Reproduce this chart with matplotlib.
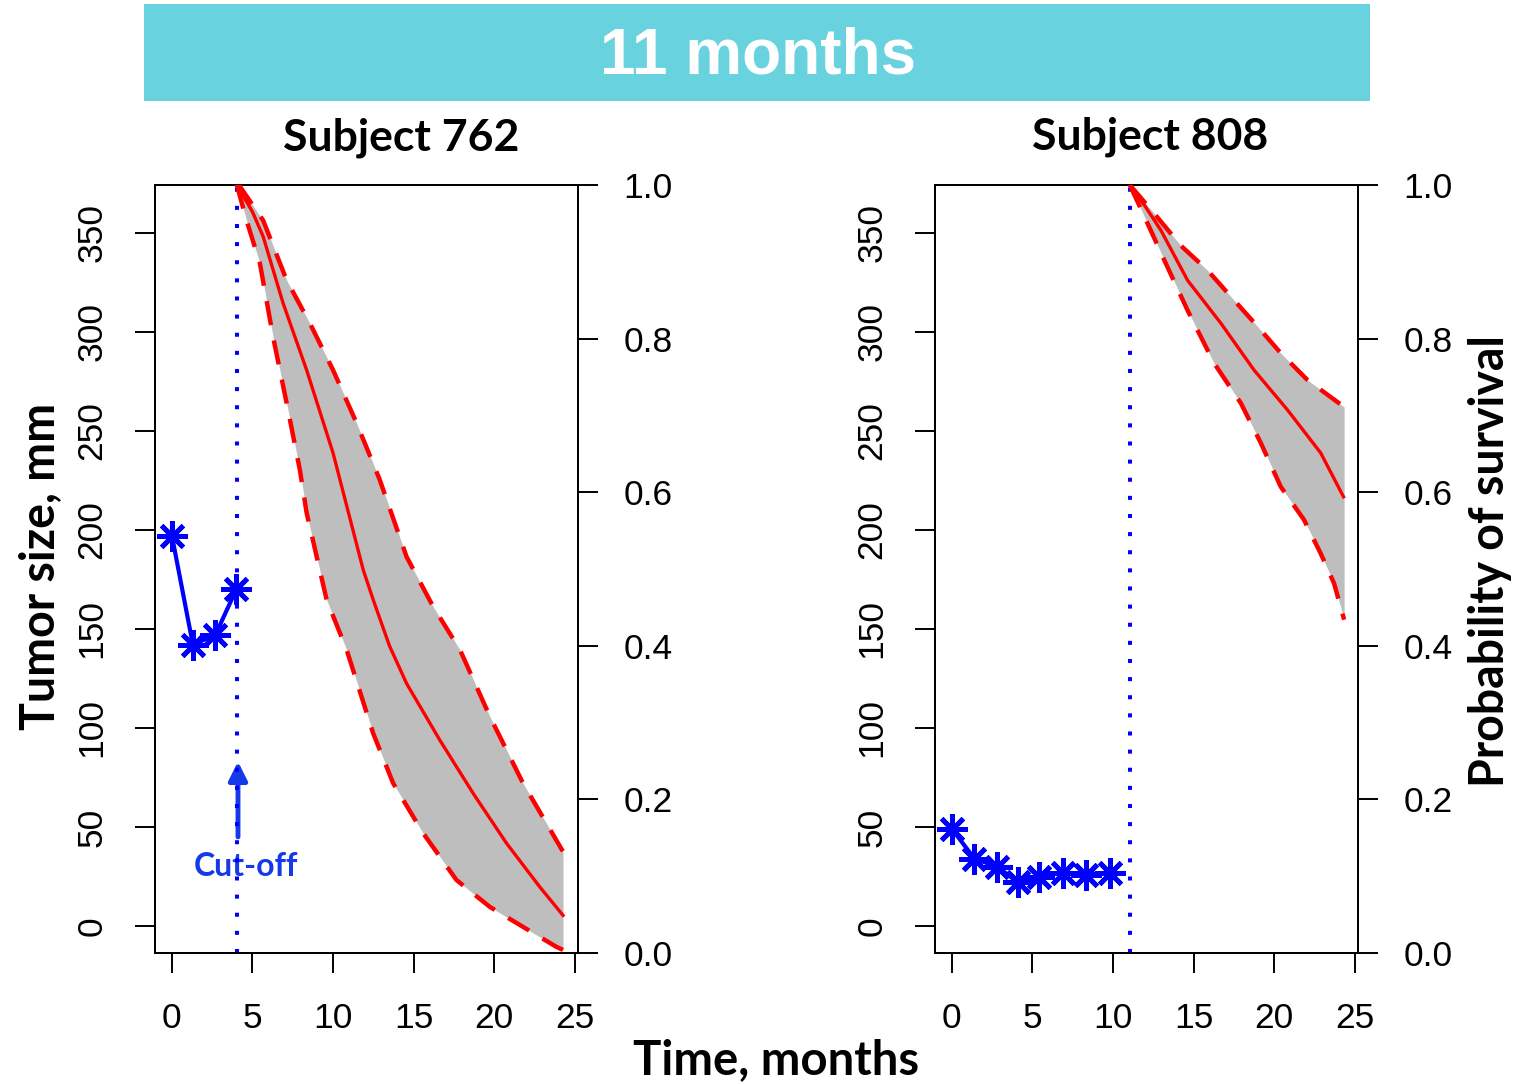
import numpy as np
import matplotlib.pyplot as plt
from matplotlib.patches import Rectangle

# ---- data ----
# subject 762
t_obs_762 = [0.0, 1.3, 2.7, 4.0]
size_obs_762 = [197, 142, 147, 170]
cut_762 = 4.03

t_mid_762 = [4.03, 5.0, 5.66, 6.90, 8.36, 10.0, 11.87, 12.49, 13.5, 14.56, 16.63, 18.69, 20.76, 22.83, 24.27]
s_mid_762 = [1.0, 0.965, 0.933, 0.846, 0.759, 0.651, 0.499, 0.460, 0.400, 0.351, 0.277, 0.208, 0.143, 0.086, 0.049]
t_up_762 = [4.03, 4.22, 5.66, 7.12, 8.56, 10.0, 11.46, 12.9, 14.56, 16.21, 17.87, 19.73, 21.79, 24.27]
s_up_762 = [1.0, 0.998, 0.954, 0.876, 0.820, 0.759, 0.690, 0.616, 0.516, 0.451, 0.395, 0.308, 0.221, 0.132]
t_lo_762 = [4.03, 4.63, 5.46, 6.28, 7.12, 7.94, 8.36, 9.60, 10.84, 12.49, 13.73, 15.59, 17.66, 19.73, 21.79, 23.86, 24.27]
s_lo_762 = [1.0, 0.954, 0.898, 0.802, 0.716, 0.629, 0.573, 0.460, 0.395, 0.286, 0.221, 0.156, 0.095, 0.060, 0.034, 0.008, 0.004]

# subject 808
t_obs_808 = [0.0, 1.4, 2.8, 4.1, 5.4, 6.9, 8.3, 9.8]
size_obs_808 = [49, 34, 30, 22, 25, 27, 26, 27]
cut_808 = 11.04

t_mid_808 = [11.04, 12.0, 12.97, 14.62, 16.69, 18.75, 20.83, 22.89, 24.3]
s_mid_808 = [1.0, 0.972, 0.941, 0.876, 0.820, 0.759, 0.707, 0.651, 0.594]
t_up_808 = [11.04, 12.55, 14.21, 15.86, 17.51, 18.96, 20.41, 22.07, 24.34]
s_up_808 = [1.0, 0.963, 0.921, 0.889, 0.850, 0.816, 0.781, 0.746, 0.711]
t_lo_808 = [11.04, 12.14, 13.38, 14.62, 16.27, 17.93, 19.17, 20.41, 21.85, 22.89, 23.72, 24.34]
s_lo_808 = [1.0, 0.950, 0.893, 0.837, 0.768, 0.716, 0.664, 0.607, 0.564, 0.520, 0.481, 0.434]

W, H = 1532, 1084
fig = plt.figure(figsize=(W / 100, H / 100), dpi=100)

def px(x0, y0, x1, y1):
    # pixel box -> figure fraction rect
    return [x0 / W, 1 - y1 / H, (x1 - x0) / W, (y1 - y0) / H]

tick_font = 'Liberation Sans'
bold_font = 'Lato'
blue = '#0000FF'
red = '#FF0000'


def panel(rect, t_obs, size_obs, cut, tm, sm, tu, su, tl, sl):
    ax = fig.add_axes(rect)
    ax.set_xlim(-1.05, 25.2)
    ax.set_ylim(-13.6, 374)
    ax.set_yticks(np.arange(0, 351, 50))
    ax.set_xticks(np.arange(0, 26, 5))
    for sp in ax.spines.values():
        sp.set_linewidth(1.4)
    ax.tick_params(length=14.5, width=1.4, labelsize=25.5, pad=19)
    ax.tick_params(axis='x', pad=21)
    for lab in ax.get_yticklabels():
        lab.set_rotation(90)
        lab.set_va('center')
        lab.set_fontfamily(tick_font)
    for lab in ax.get_xticklabels():
        lab.set_fontfamily(tick_font)

    ax.plot(t_obs, size_obs, color=blue, lw=3, marker=(8, 2, 0),
            markersize=22, mew=3.5, zorder=5, clip_on=False)
    ax.axvline(cut, color=blue, lw=2.9, linestyle=(0, (1, 3.5)), zorder=4)

    ax2 = ax.twinx()
    ax2.set_ylim(0, 1)
    ax2.set_yticks([0.0, 0.2, 0.4, 0.6, 0.8, 1.0])
    ax2.set_yticklabels(['0.0', '0.2', '0.4', '0.6', '0.8', '1.0'], fontfamily=tick_font)
    ax2.tick_params(length=14.5, width=1.4, labelsize=25.5, pad=18)
    for sp in ax2.spines.values():
        sp.set_linewidth(1.4)

    # band between the dashed bounds
    grid = np.linspace(cut, max(tu[-1], tl[-1]), 200)
    ax2.fill_between(grid, np.interp(grid, tl, sl), np.interp(grid, tu, su),
                     color='#BEBEBE', lw=0, zorder=1)
    ax2.plot(tm, sm, color=red, lw=2.4, zorder=3)
    ax2.plot(tu, su, color=red, lw=3.2, linestyle=(0, (5.5, 3.5)), zorder=3)
    ax2.plot(tl, sl, color=red, lw=3.2, linestyle=(0, (5.5, 3.5)), zorder=3)
    return ax, ax2


axL, axL2 = panel(px(155, 185, 578, 953), t_obs_762, size_obs_762, cut_762,
                  t_mid_762, s_mid_762, t_up_762, s_up_762, t_lo_762, s_lo_762)
axR, axR2 = panel(px(935, 185, 1358, 953), t_obs_808, size_obs_808, cut_808,
                  t_mid_808, s_mid_808, t_up_808, s_up_808, t_lo_808, s_lo_808)

# cut-off arrow and label
axL.annotate('', xy=(4.1, 83), xytext=(4.1, 45),
             arrowprops=dict(arrowstyle='-|>', color='#1538E8', lw=3.5,
                             mutation_scale=28, shrinkA=0, shrinkB=0))
axL.text(4.6, 30, 'Cut-off', color='#1538E8', fontsize=23, fontweight='bold',
         fontfamily=bold_font, ha='center', va='center')

# banner
fig.add_artist(Rectangle((144 / W, 1 - 101 / H), (1370 - 144) / W, 97 / H,
                         transform=fig.transFigure, facecolor='#68D3DF',
                         edgecolor='none'))
fig.text(758 / W, 1 - 56 / H, '11 months', color='white', fontsize=46,
         fontweight='bold', fontfamily=tick_font, ha='center', va='center')

fig.text(401 / W, 1 - 138 / H, 'Subject 762', fontsize=32, fontweight='bold',
         fontfamily=bold_font, ha='center', va='center')
fig.text(1150 / W, 1 - 137 / H, 'Subject 808', fontsize=32, fontweight='bold',
         fontfamily=bold_font, ha='center', va='center')
fig.text(40 / W, 1 - 566 / H, 'Tumor size, mm', fontsize=33.5, fontweight='bold',
         fontfamily=bold_font, ha='center', va='center', rotation=90)
fig.text(1490 / W, 1 - 561 / H, 'Probability of survival', fontsize=33.5,
         fontweight='bold', fontfamily=bold_font, ha='center', va='center',
         rotation=90)
fig.text(776 / W, 1 - 1060 / H, 'Time, months', fontsize=34, fontweight='bold',
         fontfamily=bold_font, ha='center', va='center')

fig.savefig('out.png', dpi=100)
